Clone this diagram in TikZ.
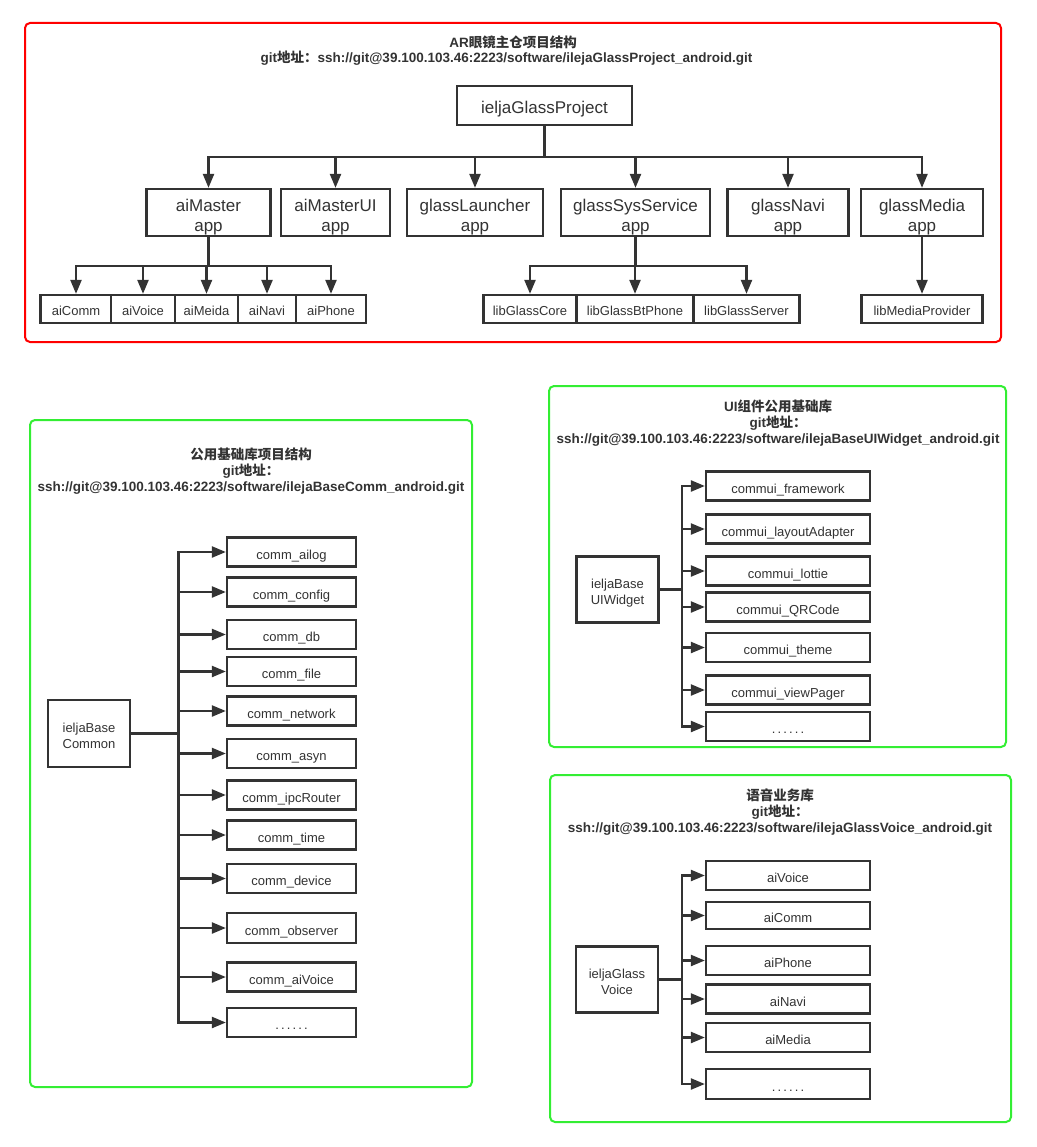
\documentclass[tikz,border=0pt]{standalone}
\usepackage{fontspec}
\setmainfont{Liberation Sans}
\newfontfamily\cjk{Noto Sans CJK SC}
\usetikzlibrary{arrows.meta}
\definecolor{col_333333}{RGB}{51,51,51}
\definecolor{col_ff0000}{RGB}{255,0,0}
\definecolor{col_33ee33}{RGB}{51,238,51}
\tikzset{
  modbox/.style={draw=col_333333, line width=2.3pt, fill=white, text=col_333333, inner sep=0pt, align=center, text height=14pt, text depth=0pt, font=\fontsize{13}{16}\selectfont},
  modbox2/.style={modbox, text height=30pt},
  bigbox/.style={modbox, text height=16pt, font=\fontsize{17}{20}\selectfont},
  bigbox2/.style={bigbox, text height=39pt},
  conn/.style={draw=col_333333, line width=2.3pt},
  arr/.style={conn, -{Triangle[length=14pt,width=11pt]}},
  redframe/.style={draw=col_ff0000, line width=2pt, rounded corners=5pt},
  greenframe/.style={draw=col_33ee33, line width=2pt, rounded corners=5pt},
  titletext/.style={text=col_333333, font=\fontsize{13.5}{16}\selectfont\bfseries, align=center, inner sep=0pt}
}
\newcommand{\tikzdrawmodule}[6]{%
\node[modbox, minimum width=#4pt, minimum height=#5pt] (#1) at (#2,#3) {#6};
}
\newcommand{\tikzdrawbranch}[2]{%
\draw[arr] (#1 |- #2.west) -- (#2.west);
}
\newcommand{\moredots}{.\,.\,.\,.\,.\,.}

\begin{document}
\begin{tikzpicture}[x=1pt,y=-1pt]
\useasboundingbox (0,0) rectangle (1036,1147);

%% main repository
\draw[redframe] (25,23) rectangle (1001,342);
\node[titletext] (titleA1) at (513,42) {AR{\cjk 眼镜主仓项目结构}};
\node[titletext] (titleA2) at (506.5,58) {git{\cjk 地址：}ssh://git@39.100.103.46:2223/software/ilejaGlassProject\_android.git};
\node[bigbox, minimum width=175pt, minimum height=39pt] (prj) at (544.5,105.5) {ieljaGlassProject};
\node[bigbox2, minimum width=124pt, minimum height=47pt] (aiMaster) at (208.5,212.5) {aiMaster\\app};
\node[bigbox2, minimum width=109pt, minimum height=47pt] (aiMasterUI) at (335.5,212.5) {aiMasterUI\\app};
\node[bigbox2, minimum width=136pt, minimum height=47pt] (glassLauncher) at (475,212.5) {glassLauncher\\app};
\node[bigbox2, minimum width=149pt, minimum height=47pt] (glassSysService) at (635.5,212.5) {glassSysService\\app};
\node[bigbox2, minimum width=121pt, minimum height=47pt] (glassNavi) at (788,212.5) {glassNavi\\app};
\node[bigbox2, minimum width=122pt, minimum height=47pt] (glassMedia) at (922,212.5) {glassMedia\\app};
\coordinate (busA) at (544.5,157);
\draw[conn] (prj.south) -- (busA);
\draw[arr] (busA) -| (aiMaster.north);
\draw[arr] (busA) -| (glassMedia.north);
\draw[arr] (aiMasterUI.north |- busA) -- (aiMasterUI.north);
\draw[arr] (glassLauncher.north |- busA) -- (glassLauncher.north);
\draw[arr] (glassSysService.north |- busA) -- (glassSysService.north);
\draw[arr] (glassNavi.north |- busA) -- (glassNavi.north);
\tikzdrawmodule{aiComm}{76}{309}{71}{28}{aiComm}
\tikzdrawmodule{aiVoice}{143}{309}{64}{28}{aiVoice}
\tikzdrawmodule{aiMeida}{206.5}{309}{63}{28}{aiMeida}
\tikzdrawmodule{aiNavi}{267}{309}{58}{28}{aiNavi}
\tikzdrawmodule{aiPhone}{331}{309}{70}{28}{aiPhone}
\coordinate (busM) at (208.5,266);
\draw[conn] (aiMaster.south) -- (busM);
\draw[arr] (busM) -| (aiComm.north);
\draw[arr] (busM) -| (aiPhone.north);
\draw[arr] (aiVoice.north |- busM) -- (aiVoice.north);
\draw[arr] (aiMeida.north |- busM) -- (aiMeida.north);
\draw[arr] (aiNavi.north |- busM) -- (aiNavi.north);
\tikzdrawmodule{libGlassCore}{530}{309}{93}{28}{libGlassCore}
\tikzdrawmodule{libGlassBtPhone}{635}{309}{117}{28}{libGlassBtPhone}
\tikzdrawmodule{libGlassServer}{746.5}{309}{106}{28}{libGlassServer}
\coordinate (busS) at (635.5,266);
\draw[conn] (glassSysService.south) -- (busS);
\draw[arr] (busS) -| (libGlassCore.north);
\draw[arr] (busS) -| (libGlassServer.north);
\draw[arr] (libGlassBtPhone.north |- busS) -- (libGlassBtPhone.north);
\tikzdrawmodule{libMediaProvider}{922}{309}{121}{28}{libMediaProvider}
\draw[arr] (glassMedia.south) -- (libMediaProvider.north);

%% common base library
\draw[greenframe] (30,420) rectangle (472,1087);
\node[titletext] (titleB) at (251,471) {{\cjk 公用基础库项目结构}\\git{\cjk 地址：}\\ssh://git@39.100.103.46:2223/software/ilejaBaseComm\_android.git};
\node[modbox2, minimum width=82pt, minimum height=67pt] (baseComm) at (89,733.5) {ieljaBase\\Common};
\tikzdrawmodule{commAilog}{291.5}{552}{129}{29}{comm\_ailog}
\tikzdrawmodule{commConfig}{291.5}{592}{129}{29}{comm\_config}
\tikzdrawmodule{commDb}{291.5}{634.5}{129}{29}{comm\_db}
\tikzdrawmodule{commFile}{291.5}{671.5}{129}{29}{comm\_file}
\tikzdrawmodule{commNetwork}{291.5}{711}{129}{29}{comm\_network}
\tikzdrawmodule{commAsyn}{291.5}{753.5}{129}{29}{comm\_asyn}
\tikzdrawmodule{commIpcRouter}{291.5}{795}{129}{29}{comm\_ipcRouter}
\tikzdrawmodule{commTime}{291.5}{835}{129}{29}{comm\_time}
\tikzdrawmodule{commDevice}{291.5}{878.5}{129}{29}{comm\_device}
\tikzdrawmodule{commObserver}{291.5}{928}{129}{30}{comm\_observer}
\tikzdrawmodule{commAiVoice}{291.5}{977}{129}{29}{comm\_aiVoice}
\tikzdrawmodule{commMore}{291.5}{1022.5}{129}{29}{\moredots}
\coordinate (trunkB) at (178.5,733.5);
\draw[conn] (baseComm.east) -- (trunkB);
\draw[arr] (trunkB) |- (commAilog.west);
\draw[arr] (trunkB) |- (commMore.west);
\tikzdrawbranch{trunkB}{commConfig}
\tikzdrawbranch{trunkB}{commDb}
\tikzdrawbranch{trunkB}{commFile}
\tikzdrawbranch{trunkB}{commNetwork}
\tikzdrawbranch{trunkB}{commAsyn}
\tikzdrawbranch{trunkB}{commIpcRouter}
\tikzdrawbranch{trunkB}{commTime}
\tikzdrawbranch{trunkB}{commDevice}
\tikzdrawbranch{trunkB}{commObserver}
\tikzdrawbranch{trunkB}{commAiVoice}

%% UI widget library
\draw[greenframe] (549,386) rectangle (1006,747);
\node[titletext] (titleC) at (778,423) {UI{\cjk 组件公用基础库}\\git{\cjk 地址：}\\ssh://git@39.100.103.46:2223/software/ilejaBaseUIWidget\_android.git};
\node[modbox2, minimum width=82pt, minimum height=66pt] (baseUI) at (617.5,589.5) {ieljaBase\\UIWidget};
\tikzdrawmodule{commuiFramework}{788}{486}{164}{29}{commui\_framework}
\tikzdrawmodule{commuiLayout}{788}{529}{164}{29}{commui\_layoutAdapter}
\tikzdrawmodule{commuiLottie}{788}{571}{164}{29}{commui\_lottie}
\tikzdrawmodule{commuiQRCode}{788}{607}{164}{29}{commui\_QRCode}
\tikzdrawmodule{commuiTheme}{788}{647.5}{164}{29}{commui\_theme}
\tikzdrawmodule{commuiViewPager}{788}{690}{164}{29}{commui\_viewPager}
\tikzdrawmodule{commuiMore}{788}{726.5}{164}{29}{\moredots}
\coordinate (trunkC) at (682,589.5);
\draw[conn] (baseUI.east) -- (trunkC);
\draw[arr] (trunkC) |- (commuiFramework.west);
\draw[arr] (trunkC) |- (commuiMore.west);
\tikzdrawbranch{trunkC}{commuiLayout}
\tikzdrawbranch{trunkC}{commuiLottie}
\tikzdrawbranch{trunkC}{commuiQRCode}
\tikzdrawbranch{trunkC}{commuiTheme}
\tikzdrawbranch{trunkC}{commuiViewPager}

%% voice library
\draw[greenframe] (550,775) rectangle (1011,1122);
\node[titletext] (titleD) at (780,812) {{\cjk 语音业务库}\\git{\cjk 地址：}\\ssh://git@39.100.103.46:2223/software/ilejaGlassVoice\_android.git};
\node[modbox2, minimum width=82pt, minimum height=66pt] (glassVoice) at (617,979.5) {ieljaGlass\\Voice};
\tikzdrawmodule{vAiVoice}{788}{875.5}{164}{29}{aiVoice}
\tikzdrawmodule{vAiComm}{788}{915.5}{164}{27}{aiComm}
\tikzdrawmodule{vAiPhone}{788}{960.5}{164}{29}{aiPhone}
\tikzdrawmodule{vAiNavi}{788}{999}{164}{29}{aiNavi}
\tikzdrawmodule{vAiMedia}{788}{1037.5}{164}{29}{aiMedia}
\tikzdrawmodule{vMore}{788}{1084}{164}{30}{\moredots}
\coordinate (trunkD) at (682,979.5);
\draw[conn] (glassVoice.east) -- (trunkD);
\draw[arr] (trunkD) |- (vAiVoice.west);
\draw[arr] (trunkD) |- (vMore.west);
\tikzdrawbranch{trunkD}{vAiComm}
\tikzdrawbranch{trunkD}{vAiPhone}
\tikzdrawbranch{trunkD}{vAiNavi}
\tikzdrawbranch{trunkD}{vAiMedia}
\end{tikzpicture}
\end{document}
